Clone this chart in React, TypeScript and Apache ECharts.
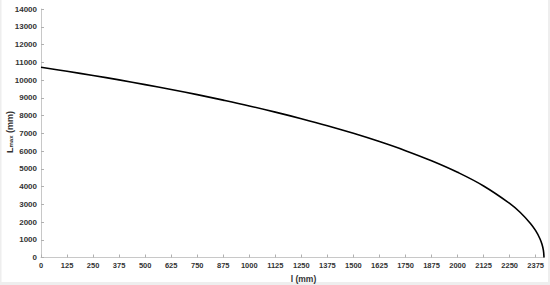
import React, { useEffect, useRef } from "react";
import * as echarts from "echarts";

const lValues = [0, 125, 250, 375, 500, 625, 750, 875, 1000, 1125, 1250, 1375, 1500, 1625, 1750, 1875, 2000, 2125, 2250, 2300, 2350, 2375, 2395, 2405, 2412, 2415];
const lmaxValues = [10720, 10490, 10255, 10005, 9740, 9465, 9175, 8865, 8540, 8190, 7820, 7425, 6995, 6530, 6020, 5450, 4800, 4030, 3050, 2550, 1920, 1510, 1070, 755, 410, 0];

const xMin = 0;
const xMax = 2415;
const xInterval = 125;
const yMin = 0;
const yMax = 14000;
const yInterval = 1000;

const yTitle = "{a|L}{b|max}{a| (mm)}";
const xTitle = "l (mm)";

export default function App() {
  const ref = useRef<HTMLDivElement>(null);
  useEffect(() => {
    if (!ref.current) return;
    const chart = echarts.init(ref.current, undefined, { renderer: "svg" });
    const data = lValues.map((l, i) => [l, lmaxValues[i]]);
    chart.setOption({
      animation: false,
      backgroundColor: "#ffffff",
      textStyle: { fontFamily: "Liberation Sans, Arial, sans-serif" },
      graphic: [
        {
          type: "rect",
          shape: { x: 0, y: 282, width: 550, height: 3 },
          style: { fill: "#eeeeee" },
          silent: true,
        },
        {
          type: "rect",
          shape: { x: 548, y: 0, width: 2, height: 285 },
          style: { fill: "#eeeeee" },
          silent: true,
        },
        {
          type: "rect",
          shape: { x: 0, y: 0, width: 1.5, height: 285 },
          style: { fill: "#eeeeee" },
          silent: true,
        },
        {
          type: "text",
          x: 8,
          y: 132,
          rotation: Math.PI / 2,
          style: {
            text: yTitle,
            align: "center",
            verticalAlign: "middle",
            fontFamily: "Liberation Sans, Arial, sans-serif",
            rich: {
              a: { fontSize: 9, fontWeight: "bold", fill: "#333", lineHeight: 12, verticalAlign: "bottom", fontFamily: "Liberation Sans, Arial, sans-serif" },
              b: { fontSize: 6, fontWeight: "bold", fill: "#333", lineHeight: 8, verticalAlign: "bottom", padding: [4, 0, 0, 0], fontFamily: "Liberation Sans, Arial, sans-serif" },
            },
          },
          silent: true,
        },
      ],
      grid: { left: 41, right: 6, top: 9, bottom: 27.5, containLabel: false, outerBoundsMode: "none" },
      xAxis: {
        type: "value",
        min: xMin,
        max: xMax,
        interval: xInterval,
        name: xTitle,
        nameLocation: "middle",
        nameGap: 15,
        nameTextStyle: {
          fontSize: 8.5,
          fontWeight: "bold",
          color: "#333",
          padding: [0, 0, 0, 22],
        },
        axisLine: { show: true, lineStyle: { color: "#c8c8c8", width: 1 } },
        axisTick: { show: true, inside: true, length: 3, lineStyle: { color: "#b0b0b0" } },
        axisLabel: {
          showMaxLabel: false,
          fontSize: 7.5,
          fontWeight: "bold",
          color: "#333",
          margin: 4,
          formatter: (v: number) => String(v),
        },
        splitLine: { show: false },
      },
      yAxis: {
        type: "value",
        min: yMin,
        max: yMax,
        interval: yInterval,
        axisLine: { show: true, lineStyle: { color: "#c8c8c8", width: 1 } },
        axisTick: { show: true, inside: true, length: 3, lineStyle: { color: "#b0b0b0" } },
        axisLabel: {
          fontSize: 8,
          fontWeight: "bold",
          color: "#333",
          margin: 4,
          formatter: (v: number) => String(v),
        },
        splitLine: { show: false },
      },
      series: [
        {
          type: "line",
          data,
          smooth: 0.4,
          showSymbol: false,
          symbol: "none",
          lineStyle: { color: "#000000", width: 1.6 },
        },
      ],
    });
    return () => chart.dispose();
  }, []);
  return (
    <div
      ref={ref}
      style={{ position: "fixed", left: 0, top: 0, width: 550, height: 285, background: "#fff" }}
    />
  );
}
